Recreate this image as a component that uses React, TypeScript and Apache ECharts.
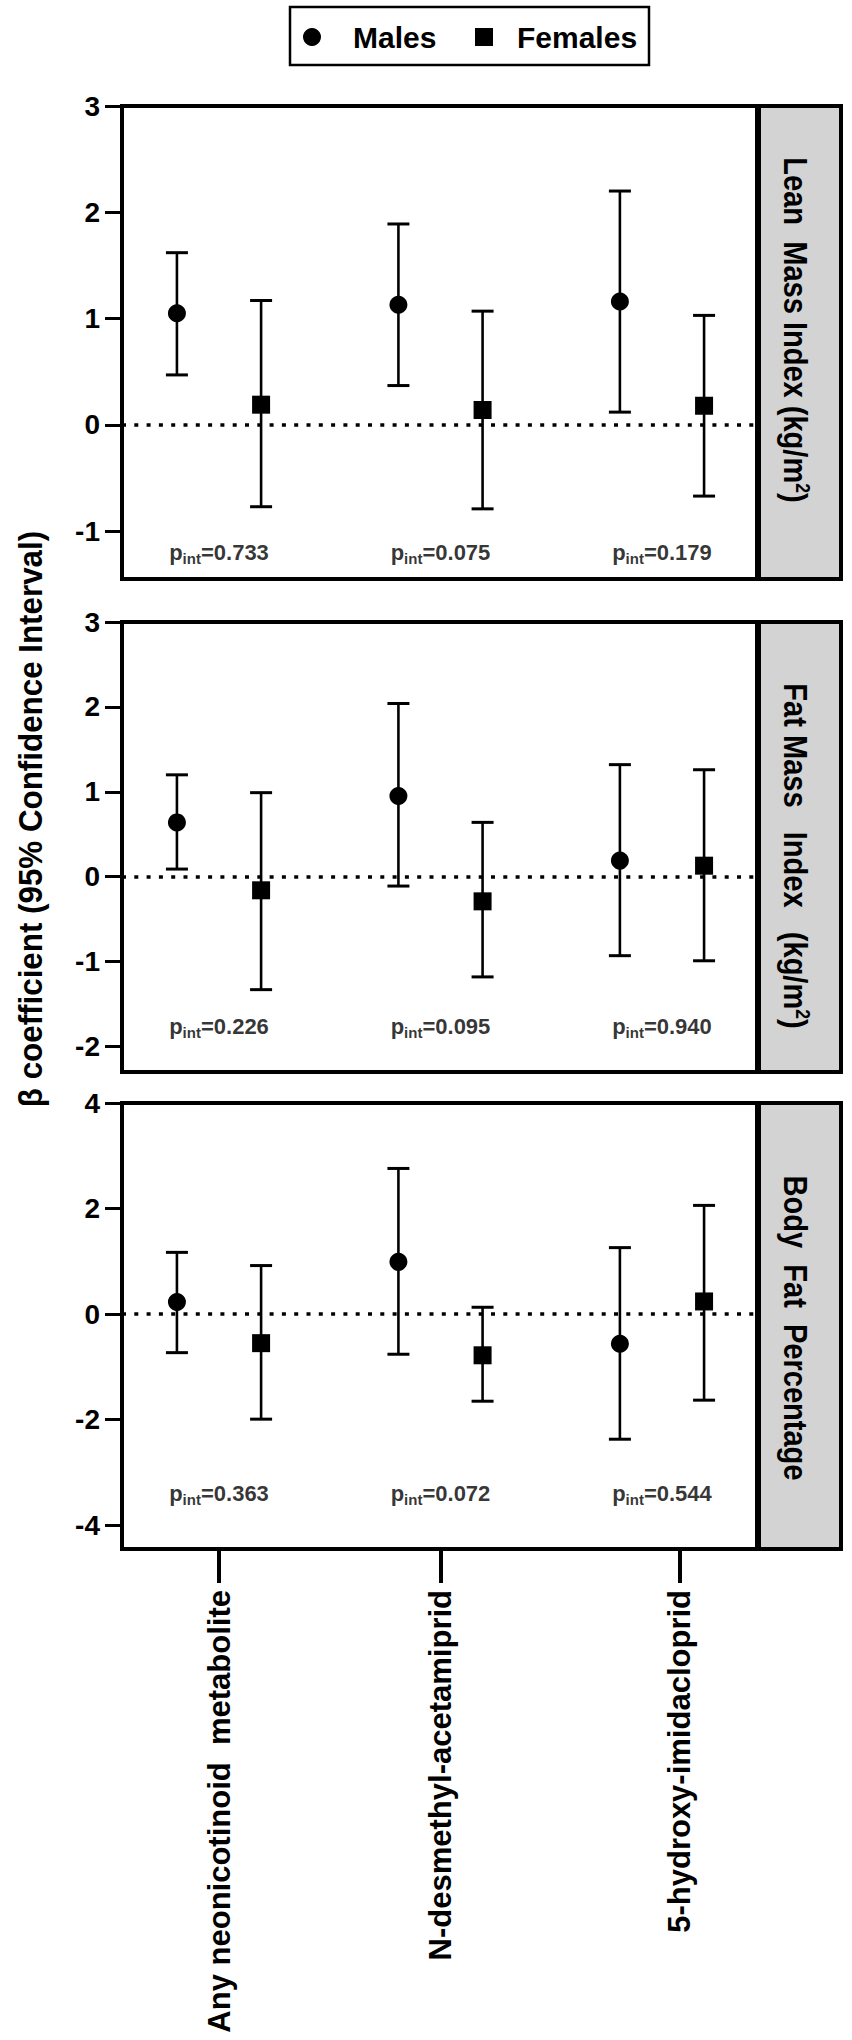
import React, { useEffect, useRef } from "react";
import * as echarts from "echarts";

// ---------- data ----------
const CATEGORIES = ["Any neonicotinoid  metabolite", "N-desmethyl-acetamiprid", "5-hydroxy-imidacloprid"];
const SERIES_NAMES = ["Males", "Females"];

// Lean Mass Index (kg/m2)
const LEAN_MALE_EST = [1.05, 1.13, 1.16];
const LEAN_MALE_LO = [0.47, 0.37, 0.12];
const LEAN_MALE_HI = [1.62, 1.89, 2.2];
const LEAN_FEMALE_EST = [0.19, 0.14, 0.18];
const LEAN_FEMALE_LO = [-0.77, -0.79, -0.67];
const LEAN_FEMALE_HI = [1.17, 1.07, 1.03];
const LEAN_P = ["0.733", "0.075", "0.179"];

// Fat Mass Index (kg/m2)
const FAT_MALE_EST = [0.64, 0.95, 0.19];
const FAT_MALE_LO = [0.09, -0.11, -0.93];
const FAT_MALE_HI = [1.2, 2.04, 1.32];
const FAT_FEMALE_EST = [-0.16, -0.29, 0.13];
const FAT_FEMALE_LO = [-1.33, -1.18, -0.99];
const FAT_FEMALE_HI = [0.99, 0.64, 1.26];
const FAT_P = ["0.226", "0.095", "0.940"];

// Body Fat Percentage
const BODY_MALE_EST = [0.23, 0.99, -0.56];
const BODY_MALE_LO = [-0.73, -0.76, -2.37];
const BODY_MALE_HI = [1.17, 2.76, 1.26];
const BODY_FEMALE_EST = [-0.55, -0.78, 0.24];
const BODY_FEMALE_LO = [-1.99, -1.65, -1.63];
const BODY_FEMALE_HI = [0.92, 0.13, 2.06];
const BODY_P = ["0.363", "0.072", "0.544"];

const LEAN_TICKS = [-1, 0, 1, 2, 3];
const FAT_TICKS = [-2, -1, 0, 1, 2, 3];
const BODY_TICKS = [-4, -2, 0, 2, 4];

const Y_TITLE = "β coefficient (95% Confidence Interval)";
// rich-text titles: {n|...} normal, {s|2} superscript
const PANEL_TITLES = [
  "{n|Lean  Mass Index (kg/m}{s|2}{n|)}",
  "{n|Fat Mass   Index   (kg/m}{s|2}{n|)}",
  "{n|Body  Fat  Percentage}",
];

// ---------- layout ----------
const FONT = "'Liberation Sans', Arial, Helvetica, sans-serif";
const X_MIN = 0.562;
const X_MAX = 3.429;
const DODGE = 0.19;
const CAT_TICKS = [1, 2, 3.08];
const GRID_LEFT = 122;
const GRID_WIDTH = 635;

const PANELS = [
  {
    top: 106, height: 473, min: -1.45, max: 3, ticks: LEAN_TICKS, pY: -1.2, titleY: 330,
    mEst: LEAN_MALE_EST, mLo: LEAN_MALE_LO, mHi: LEAN_MALE_HI,
    fEst: LEAN_FEMALE_EST, fLo: LEAN_FEMALE_LO, fHi: LEAN_FEMALE_HI, p: LEAN_P,
  },
  {
    top: 622, height: 450, min: -2.3, max: 3, ticks: FAT_TICKS, pY: -1.76, titleY: 856,
    mEst: FAT_MALE_EST, mLo: FAT_MALE_LO, mHi: FAT_MALE_HI,
    fEst: FAT_FEMALE_EST, fLo: FAT_FEMALE_LO, fHi: FAT_FEMALE_HI, p: FAT_P,
  },
  {
    top: 1103, height: 446, min: -4.45, max: 4, ticks: BODY_TICKS, pY: -3.4, titleY: 1328,
    mEst: BODY_MALE_EST, mLo: BODY_MALE_LO, mHi: BODY_MALE_HI,
    fEst: BODY_FEMALE_EST, fLo: BODY_FEMALE_LO, fHi: BODY_FEMALE_HI, p: BODY_P,
  },
];

function errorBarRender(params: any, api: any) {
  const x = api.value(0);
  const lo = api.coord([x, api.value(1)]);
  const hi = api.coord([x, api.value(2)]);
  const cap = 11;
  return {
    type: "group",
    children: [
      { type: "line", shape: { x1: lo[0], y1: lo[1], x2: hi[0], y2: hi[1] }, style: { stroke: "#000", lineWidth: 2.6 } },
      { type: "line", shape: { x1: hi[0] - cap, y1: hi[1], x2: hi[0] + cap, y2: hi[1] }, style: { stroke: "#000", lineWidth: 3 } },
      { type: "line", shape: { x1: lo[0] - cap, y1: lo[1], x2: lo[0] + cap, y2: lo[1] }, style: { stroke: "#000", lineWidth: 3 } },
    ],
  };
}

function buildOption() {
  const grid: any[] = [];
  const xAxis: any[] = [];
  const yAxis: any[] = [];
  const series: any[] = [];
  const graphic: any[] = [];

  PANELS.forEach((p, i) => {
    grid.push({
      left: GRID_LEFT, width: GRID_WIDTH, top: p.top, height: p.height,
      show: true, borderColor: "#000", borderWidth: 4, backgroundColor: "#fff",
    });
    const isLast = i === PANELS.length - 1;
    xAxis.push({
      gridIndex: i, type: "value", min: X_MIN, max: X_MAX, show: isLast, position: "bottom",
      axisLine: { show: false, onZero: false },
      splitLine: { show: false },
      axisTick: { show: true, customValues: CAT_TICKS, length: 34, lineStyle: { color: "#000", width: 4 } },
      axisLabel: {
        show: true, customValues: CAT_TICKS, rotate: 90, margin: 41, fontSize: 31, fontWeight: "bold",
        color: "#000", fontFamily: FONT,
        formatter: (v: number) => CATEGORIES[Math.round(v) - 1] || "",
      },
    });
    yAxis.push({
      gridIndex: i, type: "value", min: p.min, max: p.max,
      axisLine: { show: true, onZero: false, lineStyle: { color: "#000", width: 4 } },
      axisTick: { show: true, customValues: p.ticks, length: 17, lineStyle: { color: "#000", width: 3 } },
      axisLabel: { show: true, customValues: p.ticks, fontSize: 28, fontWeight: "bold", color: "#000", margin: 22, fontFamily: FONT },
      splitLine: { show: false },
    });

    const mBars = p.mEst.map((_, k) => [k + 1 - DODGE, p.mLo[k], p.mHi[k]]);
    const fBars = p.fEst.map((_, k) => [k + 1 + DODGE, p.fLo[k], p.fHi[k]]);
    series.push({
      type: "custom", name: SERIES_NAMES[0] + " CI", xAxisIndex: i, yAxisIndex: i, renderItem: errorBarRender,
      data: mBars, z: 3, encode: { x: 0, y: [1, 2] },
      markLine: {
        silent: true, symbol: ["none", "none"], label: { show: false },
        lineStyle: { color: "#000", width: 3.5, type: [4, 8.3], cap: "butt", opacity: 1 },
        data: [{ yAxis: 0 }], z: 2,
      },
    });
    series.push({
      type: "custom", name: SERIES_NAMES[1] + " CI", xAxisIndex: i, yAxisIndex: i, renderItem: errorBarRender,
      data: fBars, z: 3, encode: { x: 0, y: [1, 2] },
    });
    series.push({
      type: "scatter", name: SERIES_NAMES[0], xAxisIndex: i, yAxisIndex: i, symbol: "circle", symbolSize: 18,
      itemStyle: { color: "#000", opacity: 1 }, z: 4,
      data: p.mEst.map((v, k) => [k + 1 - DODGE, v]),
    });
    series.push({
      type: "scatter", name: SERIES_NAMES[1], xAxisIndex: i, yAxisIndex: i, symbol: "rect", symbolSize: 18,
      itemStyle: { color: "#000", opacity: 1 }, z: 4,
      data: p.fEst.map((v, k) => [k + 1 + DODGE, v]),
    });
    series.push({
      type: "scatter", name: "p_int", xAxisIndex: i, yAxisIndex: i, symbolSize: 0, silent: true, z: 5,
      data: p.p.map((v, k) => ({ value: [k + 1, p.pY], pval: v })),
      label: {
        show: true, position: "inside", color: "#000",
        formatter: (d: any) => `{a|p}{b|int}{a|=${d.data.pval}}`,
        rich: {
          a: { fontSize: 22, fontWeight: "bold", fontFamily: FONT, color: "#000", lineHeight: 24 },
          b: { fontSize: 15, fontWeight: "bold", fontFamily: FONT, color: "#000", lineHeight: 16, padding: [12, 0, 0, 0] },
        },
      },
    });

    // side label box
    graphic.push({
      type: "rect", shape: { x: 759, y: p.top, width: 82, height: p.height },
      style: { fill: "#d3d3d3", stroke: "#000", lineWidth: 4 }, z: 10,
    });
    graphic.push({
      type: "text", x: 795, y: p.titleY, rotation: -Math.PI / 2, scaleX: 0.88, z: 11,
      style: {
        text: PANEL_TITLES[i], align: "center", verticalAlign: "middle", fill: "#000",
        rich: {
          n: { fontSize: 33, fontWeight: "bold", fontFamily: FONT, fill: "#000", lineHeight: 34 },
          s: { fontSize: 20, fontWeight: "bold", fontFamily: FONT, fill: "#000", lineHeight: 20, padding: [0, 0, 16, 0] },
        },
      },
    });
  });

  // y-axis title
  graphic.push({
    type: "text", x: 31, y: 819, rotation: Math.PI / 2, scaleX: 0.95, z: 11,
    style: { text: Y_TITLE, align: "center", verticalAlign: "middle", font: `bold 33px ${FONT}`, fill: "#000" },
  });

  // legend
  graphic.push({ type: "rect", shape: { x: 290, y: 7, width: 359, height: 58 }, style: { fill: "#fff", stroke: "#000", lineWidth: 2.5 }, z: 10 });
  graphic.push({ type: "circle", shape: { cx: 312, cy: 37, r: 9 }, style: { fill: "#000" }, z: 11 });
  graphic.push({
    type: "text", x: 353, y: 37, z: 11,
    style: { text: SERIES_NAMES[0], align: "left", verticalAlign: "middle", font: `bold 30px ${FONT}`, fill: "#000" },
  });
  graphic.push({ type: "rect", shape: { x: 475, y: 28, width: 18, height: 18 }, style: { fill: "#000" }, z: 11 });
  graphic.push({
    type: "text", x: 517, y: 37, z: 11,
    style: { text: SERIES_NAMES[1], align: "left", verticalAlign: "middle", font: `bold 30px ${FONT}`, fill: "#000" },
  });

  return {
    animation: false,
    backgroundColor: "#fff",
    textStyle: { fontFamily: FONT },
    grid, xAxis, yAxis, series, graphic,
  };
}

export default function App() {
  const ref = useRef<HTMLDivElement>(null);
  useEffect(() => {
    document.body.style.margin = "0";
    const chart = echarts.init(ref.current!, null, { renderer: "svg" });
    chart.setOption(buildOption() as any);
    return () => chart.dispose();
  }, []);
  return <div ref={ref} style={{ position: "absolute", left: 0, top: 0, width: 852, height: 2040 }} />;
}
